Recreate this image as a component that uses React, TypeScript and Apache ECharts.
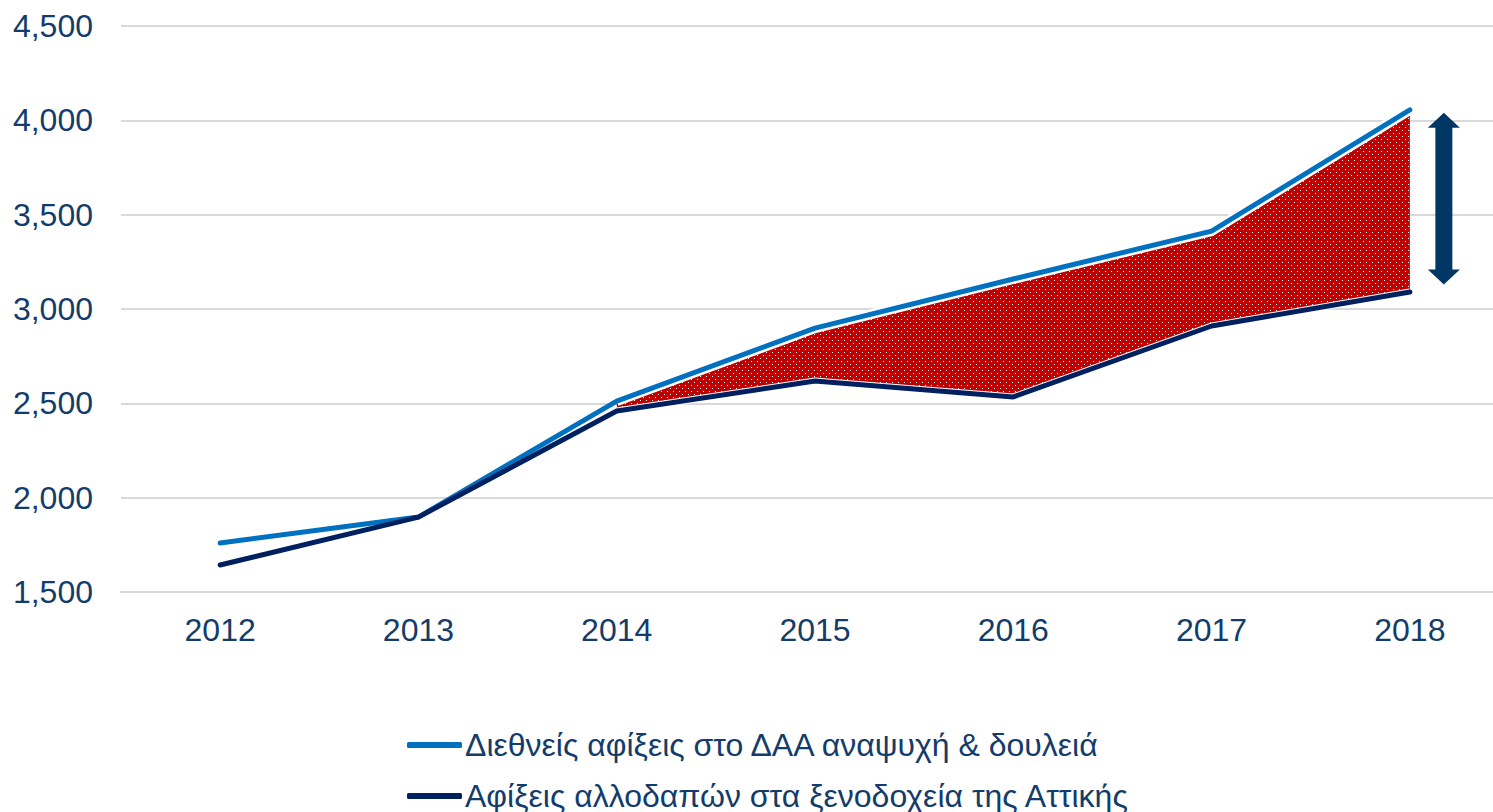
import React, { useEffect, useRef } from "react";
import * as echarts from "echarts";

const years = ["2012", "2013", "2014", "2015", "2016", "2017", "2018"];
const airportArrivals = [1760, 1897, 2512, 2899, 3159, 3413, 4055];
const hotelArrivals = [1643, 1897, 2459, 2618, 2534, 2910, 3090];
const gapStartIndex = 2;
const arrowRange = [4040, 3130];
const seriesNames = [
  "Διεθνείς αφίξεις στο ΔΑΑ αναψυχή & δουλειά",
  "Αφίξεις αλλοδαπών στα ξενοδοχεία της Αττικής",
];

const TEXT = "#133C6B";
const BLUE = "#0070C0";
const NAVY = "#002060";
const RED = "#C00000";
const ARROW = "#003764";
const FONT = "Liberation Sans, Arial, sans-serif";

function makePattern() {
  const c = document.createElement("canvas");
  c.width = 6;
  c.height = 6;
  const ctx = c.getContext("2d")!;
  ctx.fillStyle = RED;
  ctx.fillRect(0, 0, 6, 6);
  ctx.fillStyle = "#ffffff";
  ctx.fillRect(1, 1, 1, 1);
  ctx.fillRect(4, 4, 1, 1);
  return c;
}

export default function App() {
  const ref = useRef<HTMLDivElement>(null);
  useEffect(() => {
    const chart = echarts.init(ref.current!, null, { renderer: "svg" });
    const pattern = makePattern();
    const base = hotelArrivals.map((v, i) => (i >= gapStartIndex ? v : null));
    const band = airportArrivals.map((v, i) =>
      i >= gapStartIndex ? v - hotelArrivals[i] : null
    );
    const whiteTop = airportArrivals.map((v, i) => (i >= gapStartIndex ? v : null));
    const whiteBottom = base;
    chart.setOption({
      animation: false,
      grid: {
        left: 121,
        top: 26,
        width: 1388,
        height: 566,
        containLabel: false,
        outerBoundsMode: "none",
      },
      xAxis: {
        type: "category",
        data: years,
        boundaryGap: true,
        axisLine: { show: true, lineStyle: { color: "#D9D9D9", width: 2 } },
        axisTick: { show: false },
        axisLabel: {
          color: TEXT,
          fontSize: 32,
          fontFamily: FONT,
          margin: 22,
        },
      },
      yAxis: {
        type: "value",
        min: 1500,
        max: 4500,
        interval: 500,
        axisLine: { show: false },
        axisTick: { show: false },
        splitLine: { lineStyle: { color: "#D9D9D9", width: 2 } },
        axisLabel: {
          color: TEXT,
          fontSize: 32,
          fontFamily: FONT,
          margin: 28,
          formatter: (v: number) => v.toLocaleString("en-US"),
        },
      },
      legend: {
        data: seriesNames,
        orient: "vertical",
        left: 402,
        top: 724,
        height: 120,
        itemWidth: 55,
        itemHeight: 6,
        itemGap: 19,
        icon: "roundRect",
        textStyle: {
          color: TEXT,
          fontSize: 32,
          lineHeight: 32,
          fontFamily: FONT,
          padding: [0, 0, 0, -2],
        },
      },
      series: [
        {
          name: "base",
          type: "line",
          stack: "gap",
          data: base,
          symbol: "none",
          lineStyle: { width: 0 },
          silent: true,
        },
        {
          name: "band",
          type: "line",
          stack: "gap",
          data: band,
          symbol: "none",
          lineStyle: { width: 0 },
          areaStyle: {
            color: { image: pattern, repeat: "repeat", imageWidth: 6, imageHeight: 6 },
            opacity: 1,
          },
          silent: true,
        },
        {
          name: "whiteTop",
          type: "line",
          data: whiteTop,
          symbol: "none",
          lineStyle: { color: "#ffffff", width: 10 },
          silent: true,
        },
        {
          name: "whiteBottom",
          type: "line",
          data: whiteBottom,
          symbol: "none",
          lineStyle: { color: "#ffffff", width: 7 },
          silent: true,
        },
        {
          name: seriesNames[0],
          type: "line",
          data: airportArrivals,
          symbol: "none",
          itemStyle: { color: BLUE },
          lineStyle: { color: BLUE, width: 5, cap: "round" },
        },
        {
          name: seriesNames[1],
          type: "line",
          data: hotelArrivals,
          symbol: "none",
          itemStyle: { color: NAVY },
          lineStyle: { color: NAVY, width: 5, cap: "round" },
        },
      ],
    });

    const top = chart.convertToPixel({ gridIndex: 0 }, [years.length - 1, arrowRange[0]]) as number[];
    const bot = chart.convertToPixel({ gridIndex: 0 }, [years.length - 1, arrowRange[1]]) as number[];
    const cx = top[0] + 34;
    const yT = top[1];
    const yB = bot[1];
    const hw = 16;
    const hh = 15;
    const sw = 8.5;
    chart.setOption({
      graphic: [
        {
          type: "polygon",
          shape: {
            points: [
              [cx, yT],
              [cx + hw, yT + hh],
              [cx + sw, yT + hh],
              [cx + sw, yB - hh],
              [cx + hw, yB - hh],
              [cx, yB],
              [cx - hw, yB - hh],
              [cx - sw, yB - hh],
              [cx - sw, yT + hh],
              [cx - hw, yT + hh],
            ],
          },
          style: { fill: ARROW },
          z: 100,
        },
      ],
    });
    return () => chart.dispose();
  }, []);
  return (
    <div
      ref={ref}
      style={{ position: "absolute", left: 0, top: 0, width: 1493, height: 812 }}
    />
  );
}
